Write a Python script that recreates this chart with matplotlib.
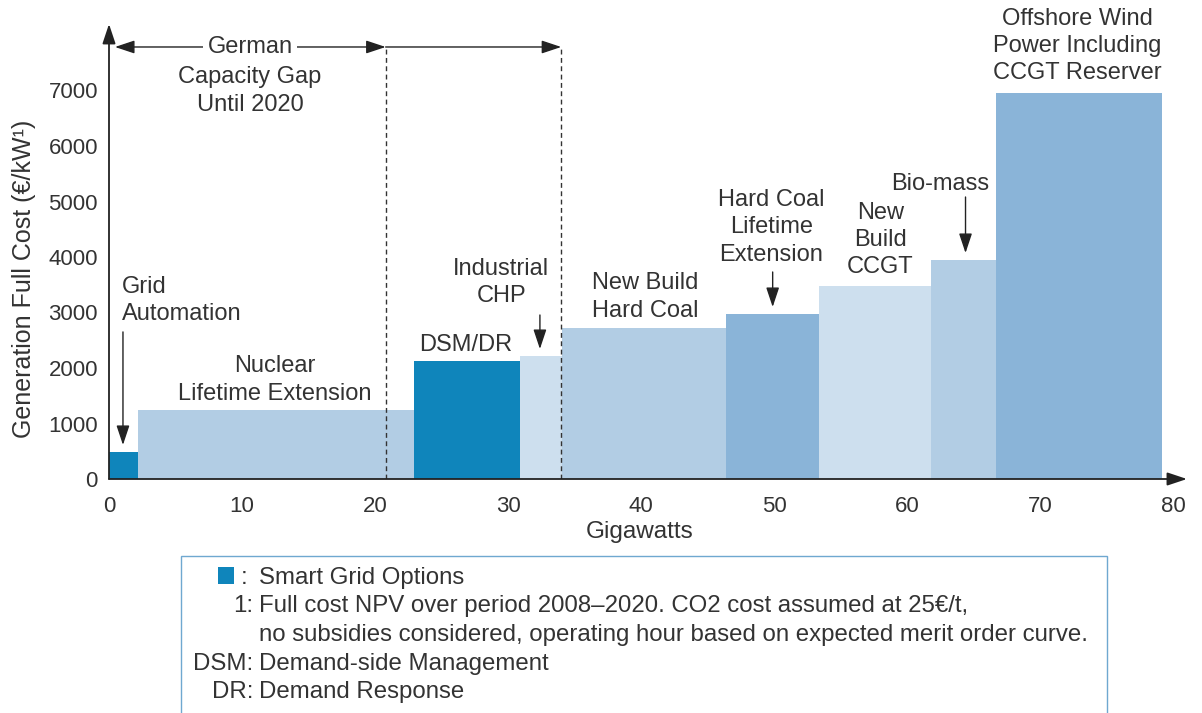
import matplotlib
matplotlib.use("Agg")
import matplotlib.pyplot as plt
from matplotlib.patches import Rectangle
import numpy as np

plt.rcParams['font.family'] = ['Liberation Sans', 'DejaVu Sans']
plt.rcParams['font.size'] = 17
txt = '#333333'

# Données : capacité (GW) et coût complet (EUR/kW) par option
options = ['Grid Automation', 'Nuclear Lifetime Extension', 'DSM/DR', 'Industrial CHP',
           'New Build Hard Coal', 'Hard Coal Lifetime Extension', 'New Build CCGT',
           'Bio-mass', 'Offshore Wind Power Including CCGT Reserver']
capacity = [2.15, 20.75, 8.0, 3.15, 12.35, 7.0, 8.4, 4.9, 12.45]
cost = [480, 1240, 2130, 2220, 2720, 2980, 3480, 3950, 6950]
x_ticks = [0, 10, 20, 30, 40, 50, 60, 70, 80]
y_ticks = [0, 1000, 2000, 3000, 4000, 5000, 6000, 7000]
gap_limits = [20.8, 34.0]

dark = '#0f85bb'
mid = '#8ab4d8'
light = '#b2cde4'
lighter = '#cddfee'
colors = [dark, light, dark, lighter, light, mid, lighter, light, mid]

W, H = 1202, 713
fig = plt.figure(figsize=(W / 100, H / 100), dpi=100)

# axes placé en pixels : x=0 -> 109 px, 13.3 px/GW ; y=0 -> 479 px, 55.5 px/1000
x0, sx, y0, sy = 109, 13.3, 479, 0.0555
xmax, ymax = 81.05, 8198
ax = fig.add_axes([x0 / W, (H - y0) / H, xmax * sx / W, ymax * sy / H])
ax.set_xlim(0, xmax)
ax.set_ylim(0, ymax)
for s in ax.spines.values():
    s.set_visible(False)

lefts = np.concatenate([[0], np.cumsum(capacity)[:-1]])
ax.bar(lefts, cost, width=capacity, align='edge', color=colors, linewidth=0, zorder=2)

# lignes pointillées de la période "capacity gap"
ax.vlines(gap_limits, 0, 7784, colors='#333333', linestyles=(0, (3.5, 2.5)), lw=1, zorder=3)

# axes avec flèches
axis_kw = dict(arrowstyle='-|>,head_length=0.6,head_width=0.2', color='#222222',
               lw=1.3, shrinkA=0, shrinkB=0, mutation_scale=20)
ax.annotate('', xy=(xmax, 0), xytext=(0, 0), annotation_clip=False, arrowprops=axis_kw, zorder=4)
ax.annotate('', xy=(0, ymax), xytext=(0, 0), annotation_clip=False, arrowprops=axis_kw, zorder=4)

ax.set_xticks(x_ticks)
ax.set_yticks(y_ticks)
ax.tick_params(axis='x', length=0, pad=12, labelcolor=txt, labelsize=16)
ax.tick_params(axis='y', length=0, pad=8, labelcolor=txt, labelsize=16)

ax.set_ylabel('Generation Full Cost (€/kW¹)', color=txt, fontsize=18)
ax.yaxis.set_label_coords(-5.5, 3600, transform=ax.transData)
ax.set_xlabel('Gigawatts', color=txt, fontsize=17.5)
ax.xaxis.set_label_coords(39.9, -757, transform=ax.transData)

arrow_kw = dict(arrowstyle='-|>,head_length=0.6,head_width=0.2', color='#222222',
                lw=1, shrinkA=0, shrinkB=0, mutation_scale=20)
ls = 1.32

# flèches "German Capacity Gap"
ax.annotate('', xy=(gap_limits[0], 7784), xytext=(0.45, 7784), annotation_clip=False,
            arrowprops=dict(arrow_kw, arrowstyle='<|-|>,head_length=0.6,head_width=0.2'))
ax.annotate('', xy=(gap_limits[1], 7784), xytext=(gap_limits[0], 7784), annotation_clip=False,
            arrowprops=arrow_kw)
ax.text(10.6, 7784, 'German', ha='center', va='center', color=txt,
        bbox=dict(facecolor='white', edgecolor='none', pad=3), zorder=5)
ax.text(10.6, 6991, 'Capacity Gap\nUntil 2020', ha='center', va='center', color=txt,
        linespacing=ls)

# étiquettes des options
ax.text(0.95, 3214, 'Grid\nAutomation', ha='left', va='center', color=txt, linespacing=ls)
ax.annotate('', xy=(1.05, 613), xytext=(1.05, 2650), arrowprops=arrow_kw)
ax.text(12.5, 1784, 'Nuclear\nLifetime Extension', ha='center', va='center', color=txt,
        linespacing=ls)
ax.text(26.8, 2414, 'DSM/DR', ha='center', va='center', color=txt)
ax.text(29.5, 3541, 'Industrial\nCHP', ha='center', va='center', color=txt, linespacing=ls)
ax.annotate('', xy=(32.4, 2342), xytext=(32.4, 2955), arrowprops=arrow_kw)
ax.text(40.3, 3279, 'New Build\nHard Coal', ha='center', va='center', color=txt, linespacing=ls)
ax.text(49.8, 4532, 'Hard Coal\nLifetime\nExtension', ha='center', va='center', color=txt,
        linespacing=ls)
ax.annotate('', xy=(49.9, 3099), xytext=(49.9, 3730), arrowprops=arrow_kw)
ax.text(58.0, 4306, 'New\nBuild\nCCGT', ha='center', va='center', color=txt, linespacing=ls)
ax.text(62.5, 5315, 'Bio-mass', ha='center', va='center', color=txt)
ax.annotate('', xy=(64.4, 4072), xytext=(64.4, 5081), arrowprops=arrow_kw)
ax.text(72.8, 7802, 'Offshore Wind\nPower Including\nCCGT Reserver', ha='center', va='center',
        color=txt, linespacing=ls)

# encadré de légende en bas
def fx(px):
    return px / W

def fy(py):
    return 1 - py / H

fig.add_artist(Rectangle((fx(181), -0.02), fx(1107) - fx(181), fy(556) + 0.02,
                         transform=fig.transFigure, facecolor='white',
                         edgecolor='#6fa8d0', lw=1))
fig.add_artist(Rectangle((fx(218), fy(584)), fx(234) - fx(218), fy(567) - fy(584),
                         transform=fig.transFigure, facecolor=dark, edgecolor='none'))

note_keys = ['', '1:', '', 'DSM:', 'DR:']
note_texts = ['Smart Grid Options',
              'Full cost NPV over period 2008\u20132020. CO2 cost assumed at 25€/t,',
              'no subsidies considered, operating hour based on expected merit order curve.',
              'Demand-side Management',
              'Demand Response']
note_y = [578, 606, 635, 664, 692]
fs_note = 17.3
fig.text(fx(241), fy(note_y[0]), ':', ha='left', va='center', color=txt, fontsize=fs_note)
for k, t, py in zip(note_keys, note_texts, note_y):
    if k:
        fig.text(fx(253), fy(py), k, ha='right', va='center', color=txt, fontsize=fs_note)
    fig.text(fx(259), fy(py), t, ha='left', va='center', color=txt, fontsize=fs_note)

fig.savefig('out.png', dpi=100)
